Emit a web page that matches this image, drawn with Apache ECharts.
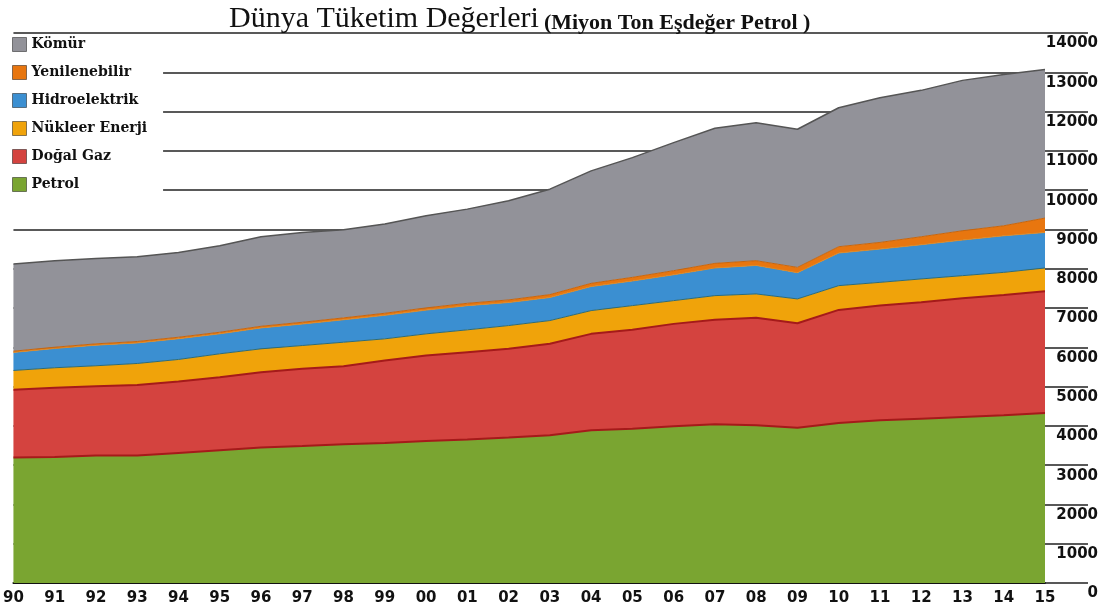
<!DOCTYPE html>
<html>
<head>
<meta charset="utf-8">
<script src="https://cdn.jsdelivr.net/npm/echarts@6/dist/echarts.min.js"></script>
<style>
  html, body { margin: 0; padding: 0; background: #fff; }
  #chart { width: 1107px; height: 612px; }
</style>
</head>
<body>
<div id="chart"></div>
<script>
// yıllar (1990 - 2015)
var years = ['90', '91', '92', '93', '94', '95', '96', '97', '98', '99',
  '00', '01', '02', '03', '04', '05', '06', '07', '08', '09',
  '10', '11', '12', '13', '14', '15'];

// Milyon ton eşdeğer petrol
var petrol = [3193, 3208, 3244, 3244, 3310, 3378, 3447, 3488, 3531, 3564,
  3615, 3650, 3701, 3759, 3886, 3929, 3988, 4039, 4013, 3954,
  4072, 4140, 4183, 4225, 4267, 4326];
var dogalGaz = [1727, 1763, 1767, 1793, 1821, 1862, 1920, 1965, 1989, 2100,
  2176, 2225, 2260, 2329, 2456, 2515, 2608, 2659, 2736, 2658,
  2880, 2921, 2962, 3022, 3066, 3098];
var nukleer = [490, 508, 519, 551, 559, 594, 594, 592, 609, 551,
  551, 569, 592, 592, 592, 617, 592, 617, 609, 619,
  617, 592, 595, 576, 574, 595];
var hidro = [460, 491, 524, 523, 528, 509, 532, 547, 572, 599,
  604, 616, 587, 587, 612, 627, 658, 704, 726, 668,
  831, 848, 871, 907, 932, 904];
var yenilenebilir = [30, 32, 34, 36, 38, 40, 42, 45, 48, 52,
  56, 60, 66, 74, 82, 92, 104, 117, 120, 135,
  160, 168, 203, 236, 254, 366];
var komur = [2220, 2202, 2175, 2159, 2159, 2202, 2279, 2286, 2243, 2270,
  2345, 2397, 2522, 2684, 2862, 3048, 3259, 3439, 3514, 3515,
  3538, 3683, 3726, 3828, 3853, 3784];

var yTicks = { min: 0, max: 14000, interval: 1000 };

var chartDom = document.getElementById('chart');
var myChart = echarts.init(chartDom);

function area(name, data, fill, edge, edgeWidth) {
  return {
    name: name,
    type: 'line',
    stack: 'toplam',
    data: data,
    color: fill,
    showSymbol: false,
    symbol: 'none',
    itemStyle: { color: fill },
    lineStyle: { color: edge, width: edgeWidth },
    areaStyle: { color: fill, opacity: 1 },
    emphasis: { disabled: true }
  };
}

var option = {
  animation: false,
  title: {
    left: 224,
    top: -2,
    text: '{a|Dünya Tüketim Değerleri} {b|(Miyon Ton Eşdeğer Petrol )}',
    textStyle: {
      fontWeight: 'normal',
      rich: {
        a: { fontFamily: 'Liberation Serif', fontSize: 30, fontWeight: 'normal', color: '#111', lineHeight: 31, verticalAlign: 'bottom' },
        b: { fontFamily: 'Liberation Serif', fontSize: 22, fontWeight: 'bold', color: '#111', lineHeight: 26, verticalAlign: 'bottom' }
      }
    }
  },
  legend: {
    orient: 'vertical',
    left: 12,
    top: 37,
    padding: [0, 16, 0, 0],
    itemGap: 13,
    itemWidth: 14,
    itemHeight: 14,
    icon: 'rect',
    backgroundColor: '#fff',
    itemStyle: { borderColor: 'rgba(0,0,0,0.45)', borderWidth: 1 },
    textStyle: { fontFamily: 'DejaVu Serif', fontWeight: 'bold', fontSize: 14, color: '#111' },
    data: ['Kömür', 'Yenilenebilir', 'Hidroelektrik', 'Nükleer Enerji', 'Doğal Gaz', 'Petrol']
  },
  grid: { left: 12, right: 62, top: 33, bottom: 29, containLabel: false },
  xAxis: {
    type: 'category',
    boundaryGap: false,
    data: years,
    axisLine: { show: true, lineStyle: { color: '#111', width: 2 } },
    axisTick: { show: false },
    axisLabel: {
      interval: 0,
      margin: 8,
      fontFamily: 'DejaVu Sans',
      fontWeight: 'bold',
      fontSize: 15,
      color: '#111'
    },
    splitLine: { show: false }
  },
  yAxis: {
    type: 'value',
    position: 'right',
    min: yTicks.min,
    max: yTicks.max,
    interval: yTicks.interval,
    axisLine: { show: false },
    axisTick: { show: true, length: 43, lineStyle: { color: '#222', width: 1.5 } },
    axisLabel: {
      align: 'right',
      verticalAlign: 'top',
      margin: 53,
      padding: [3, 0, 0, 0],
      fontFamily: 'DejaVu Sans',
      fontWeight: 'bold',
      fontSize: 15,
      color: '#111',
      formatter: function (v) { return String(v); }
    },
    splitLine: { show: true, lineStyle: { color: '#222', width: 1.5 } }
  },
  series: [
    area('Petrol', petrol, '#7aa531', '#a51a1a', 2),
    area('Doğal Gaz', dogalGaz, '#d4433f', '#a51a1a', 2),
    area('Nükleer Enerji', nukleer, '#f0a30a', '#2f6b73', 1),
    area('Hidroelektrik', hidro, '#3b8fd1', '#d98a2a', 1),
    area('Yenilenebilir', yenilenebilir, '#e8760f', '#c8650c', 1),
    area('Kömür', komur, '#929299', '#555', 1.5)
  ]
};

option && myChart.setOption(option);
</script>
</body>
</html>
